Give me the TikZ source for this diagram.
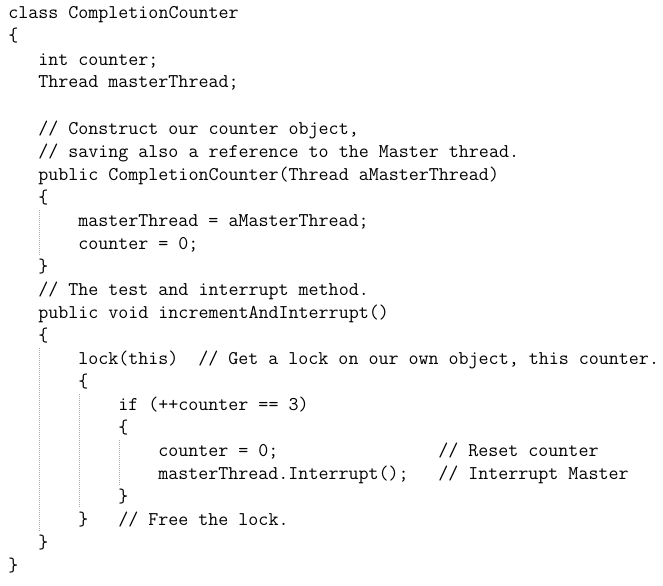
\documentclass[tikz,border=0pt]{standalone}
\usepackage{fontspec}
\usetikzlibrary{calc}
\tikzset{code/.style={anchor=base west, inner sep=0pt, font=\ttfamily\fontsize{14.587}{17}\selectfont},
  guide/.style={draw=black!35, line width=0.75pt, dash pattern=on 0.75pt off 0.75pt}}
\frenchspacing

\begin{document}
\begin{tikzpicture}[x=0.75pt, y=-0.75pt]
          \useasboundingbox (0,0) rectangle (663,585);
          % class header and fields
          \node at (8, 19) [code] (cls) {class CompletionCounter};
          \node at (8, 42) [code] (clsOpen) {\{};
          \node at (38, 65) [code] (fldCount) {int counter;};
          \node at (38, 88) [code] (fldMaster) {Thread masterThread;};
          % constructor
          \node at (38, 134) [code] (cmtCtorA) {// Construct our counter object,};
          \node at (38, 157) [code] (cmtCtorB) {// saving also a reference to the Master thread.};
          \node at (38, 180) [code] (ctor) {public CompletionCounter(Thread aMasterThread)};
          \node at (38, 203) [code] (ctorOpen) {\{};
          \node at (78, 226) [code] (ctorSet) {masterThread = aMasterThread;};
          \node at (78, 249) [code] (ctorZero) {counter = 0;};
          \node at (38, 272) [code] (ctorClose) {\}};
          % method
          \node at (38, 295) [code] (cmtMeth) {// The test and interrupt method.};
          \node at (38, 318) [code] (meth) {public void incrementAndInterrupt()};
          \node at (38, 341) [code] (methOpen) {\{};
          \node at (78, 364) [code] (lck) {lock(this)};
          \node at (198, 364) [code] (cmtLock) {// Get a lock on our own object, this counter.};
          \node at (78, 387) [code] (lckOpen) {\{};
          \node at (118, 410) [code] (test) {if (++counter == 3)};
          \node at (118, 433) [code] (testOpen) {\{};
          \node at (158, 456) [code] (reset) {counter = 0;};
          \node at (438, 456) [code] (cmtReset) {// Reset counter};
          \node at (158, 479) [code] (intr) {masterThread.Interrupt();};
          \node at (438, 479) [code] (cmtIntr) {// Interrupt Master};
          \node at (118, 502) [code] (testClose) {\}};
          \node at (78, 525) [code] (lckClose) {\}};
          \node at (118, 525) [code] (cmtFree) {// Free the lock.};
          \node at (38, 548) [code] (methClose) {\}};
          \node at (8, 571) [code] (clsClose) {\}};

          % dotted block guides
          \foreach \a / \b in {ctorOpen/ctorClose, methOpen/methClose, lckOpen/lckClose, testOpen/testClose} {
            \draw[guide] ($ (\a.base west) + (1,7) $) -- ($ (\b.base west) + (1,-17) $);
          }
        \end{tikzpicture}
\end{document}
